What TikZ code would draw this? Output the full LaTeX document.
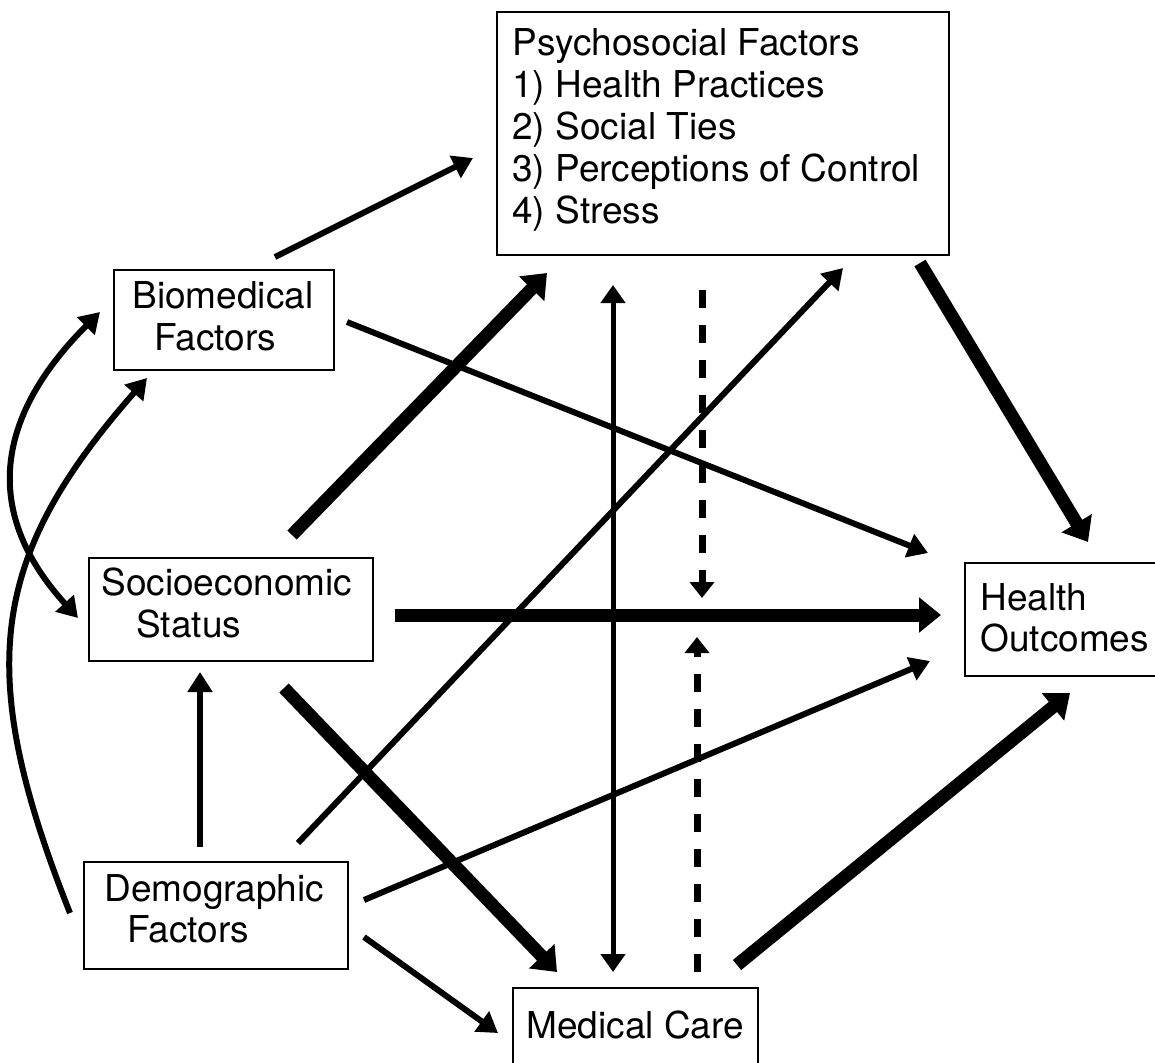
\documentclass[tikz,border=0pt]{standalone}
\usepackage{fontspec}
\setmainfont{TeX Gyre Heros}
\usetikzlibrary{arrows.meta}
\begin{document}
\begin{tikzpicture}[x=0.5pt,y=-0.5pt,
  box/.style={draw, line width=1pt, inner sep=0pt, anchor=north west},
  lbl/.style={anchor=base west, inner sep=0pt, font=\fontsize{18.5}{21}\selectfont},
  thinarr/.style={line width=3pt, -{Triangle[length=10pt,width=12pt]}},
  thickarr/.style={line width=6.5pt, -{Triangle[length=11pt,width=17pt]}},
  dasharr/.style={line width=3.5pt, dash pattern=on 9pt off 8.5pt, -{Triangle[length=8pt,width=12pt]}},
  dblarr/.style={line width=2.5pt, {Triangle[length=9pt,width=12pt]}-{Triangle[length=9pt,width=12pt]}}
]
\useasboundingbox (0,0) rectangle (1155,1062);
\clip (0,0) rectangle (1155,1062);

% boxes
\node[box, minimum width=226pt, minimum height=121.5pt] (psy) at (496,11) {};
\node[box, minimum width=110pt, minimum height=50pt] (bio) at (113,269) {};
\node[box, minimum width=142pt, minimum height=51.5pt] (ses) at (88,557) {};
\node[box, minimum width=132pt, minimum height=53.5pt] (demo) at (83,861) {};
\node[box, minimum width=110pt, minimum height=56.5pt] (hea) at (964,562) {};
\node[box, minimum width=122.5pt, minimum height=50pt] (med) at (512,987) {};

% texts
\node[lbl] (psy1) at (512,55) {Psychosocial Factors};
\node[lbl] (psy2) at (512,97) {1) Health Practices};
\node[lbl] (psy3) at (512,139) {2) Social Ties};
\node[lbl] (psy4) at (512,181) {3) Perceptions of Control};
\node[lbl] (psy5) at (512,223) {4) Stress};
\node[lbl] (bio1) at (132,308) {Biomedical};
\node[lbl] (bio2) at (154,350) {Factors};
\node[lbl] (ses1) at (101,595) {Socioeconomic};
\node[lbl] (ses2) at (136,637) {Status};
\node[lbl] (demo1) at (104,901) {Demographic};
\node[lbl] (demo2) at (127,942) {Factors};
\node[lbl] (hea1) at (980,610) {Health};
\node[lbl] (hea2) at (980,651) {Outcomes};
\node[lbl] (med1) at (526,1038) {Medical Care};

% connector end points
\coordinate (bioPsyA) at (275,257);   \coordinate (bioPsyB) at (473,158);
\coordinate (sesPsyA) at (292,535);   \coordinate (sesPsyB) at (547,273);
\coordinate (bioHeaA) at (347,322);   \coordinate (bioHeaB) at (928,553);
\coordinate (psyHeaA) at (920,263);   \coordinate (psyHeaB) at (1088,542);
\coordinate (sesHeaA) at (395,615);   \coordinate (sesHeaB) at (941,615);
\coordinate (demPsyA) at (298,843);   \coordinate (demPsyB) at (843,268);
\coordinate (demHeaA) at (364,900);   \coordinate (demHeaB) at (930,661);
\coordinate (demMedA) at (364,937);   \coordinate (demMedB) at (498,1033);
\coordinate (demSesA) at (200,847);   \coordinate (demSesB) at (200,672);
\coordinate (sesMedA) at (284,688);   \coordinate (sesMedB) at (557,972);
\coordinate (psyMedA) at (613,285);   \coordinate (psyMedB) at (613,972);
\coordinate (psyDashA) at (702,290);  \coordinate (psyDashB) at (702,598);
\coordinate (medDashA) at (697,972);  \coordinate (medDashB) at (697,637);
\coordinate (medHeaA) at (737,965);   \coordinate (medHeaB) at (1070,693);
\coordinate (bioSesA) at (100,312);   \coordinate (bioSesB) at (78,618);
\coordinate (demBioA) at (70,913);    \coordinate (demBioB) at (147,378);

% connectors
\draw[thinarr] (bioPsyA) -- (bioPsyB);
\draw[thickarr] (sesPsyA) -- (sesPsyB);
\draw[thinarr] (bioHeaA) -- (bioHeaB);
\draw[thickarr] (psyHeaA) -- (psyHeaB);
\draw[thickarr] (sesHeaA) -- (sesHeaB);
\draw[thinarr] (demPsyA) -- (demPsyB);
\draw[thinarr] (demHeaA) -- (demHeaB);
\draw[thinarr] (demMedA) -- (demMedB);
\draw[thinarr] (demSesA) -- (demSesB);
\draw[thickarr] (sesMedA) -- (sesMedB);
\draw[dblarr] (psyMedA) -- (psyMedB);
\draw[dasharr] (psyDashA) -- (psyDashB);
\draw[dasharr] (medDashA) -- (medDashB);
\draw[thickarr] (medHeaA) -- (medHeaB);
\draw[line width=3pt, {Triangle[length=10pt,width=12pt]}-{Triangle[length=10pt,width=12pt]}]
  (bioSesA) .. controls (0,412) and (-22,508) .. (bioSesB);
\draw[thinarr] (demBioA) .. controls (-26,671) and (-11,558) .. (demBioB);
\end{tikzpicture}
\end{document}
